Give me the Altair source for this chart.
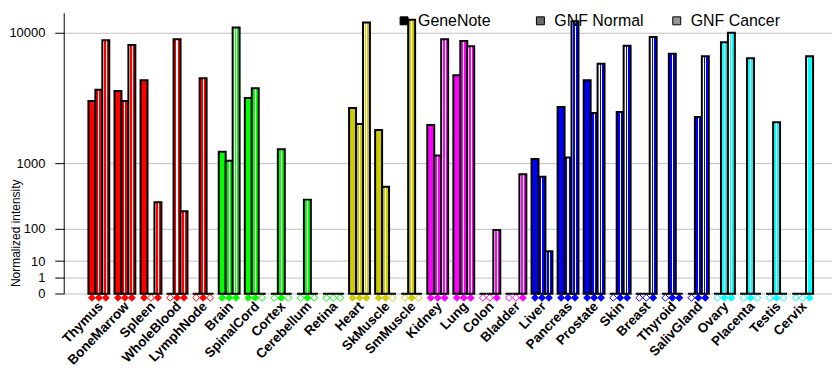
import altair as alt
import pandas as pd

tissues = ["Thymus", "BoneMarrow", "Spleen", "WholeBlood", "LymphNode", "Brain", "SpinalCord",
           "Cortex", "Cerebellum", "Retina", "Heart", "SkMuscle", "SmMuscle", "Kidney", "Lung",
           "Colon", "Bladder", "Liver", "Pancreas", "Prostate", "Skin", "Breast", "Thyroid",
           "SalivGland", "Ovary", "Placenta", "Testis", "Cervix"]
groups = ["red"] * 5 + ["green"] * 5 + ["yellow"] * 3 + ["magenta"] * 4 + ["blue"] * 7 + ["cyan"] * 4

series_order = ["GeneNote", "GNF Normal", "GNF Cancer"]

genenote = [3640, 4300, 5120, 0, 0, 1320, 3830, 0, 0, 0, 3220, 2120, 0, 2345, 5530,
            0, 0, 1110, 3275, 5120, 0, 0, 0, 0, 0, 0, 0, 0]
gnf_normal = [4400, 3640, 0, 9160, 5280, 1060, 4510, 1400, 337, 0, 2390, 517, 11700, 1210, 8960,
              0, 0, 693, 1150, 2940, 2990, 0, 7540, 2730, 8800, 7080, 2470, 0]
gnf_cancer = [9040, 8500, 307, 218, 0, 10660, 0, 0, 0, 0, 11330, 0, 0, 9160, 8350,
              92, 742, 24, 11500, 6540, 8400, 9440, 0, 7290, 9980, 0, 0, 7290]

gn_present = [1, 1, 1, 0, 0, 1, 1, 0, 0, 0, 1, 1, 0, 1, 1, 0, 0, 1, 1, 1, 0, 0, 0, 0, 0, 0, 0, 0]
normal_present = [1, 1, 0, 1, 1, 1, 1, 1, 1, 0, 1, 1, 1, 1, 1, 0, 0, 1, 1, 1, 1, 0, 1, 1, 1, 1, 1, 0]
cancer_present = [1, 1, 1, 1, 0, 1, 0, 0, 0, 0, 1, 0, 0, 1, 1, 1, 1, 1, 1, 1, 1, 1, 1, 1, 1, 0, 0, 1]

palette = {"red": "#ff0000", "green": "#00ff00", "yellow": "#cccc00",
           "magenta": "#ff00ff", "blue": "#0000ff", "cyan": "#00ffff"}

rows = []
for vals, pres, s in [(genenote, gn_present, "GeneNote"),
                      (gnf_normal, normal_present, "GNF Normal"),
                      (gnf_cancer, cancer_present, "GNF Cancer")]:
    for t, g, v, p in zip(tissues, groups, vals, pres):
        rows.append({"tissue": t, "series": s, "value": v, "group": g,
                     "color": palette[g], "present": p})
df = pd.DataFrame(rows)

W, H = 772, 282.3
FONT = "Liberation Sans"


def stripes(c, kind):
    if kind == "normal":
        stops = [(0, c), (0.42, c), (0.42, "#ffffff"), (0.57, "#ffffff"), (0.57, c), (1, c)]
    else:
        stops = [(0, "#ffffff"), (0.28, "#ffffff"), (0.28, c), (0.5, c),
                 (0.5, "#ffffff"), (0.63, "#ffffff"), (0.63, c), (1, c)]
    return {"gradient": "linear", "x1": 0, "y1": 0, "x2": 1, "y2": 0,
            "stops": [{"offset": o, "color": col} for o, col in stops]}


x_enc = alt.X("tissue:N", sort=tissues,
              scale=alt.Scale(paddingInner=0.2, paddingOuter=0.837, align=0.566, round=False),
              axis=alt.Axis(title=None, labelAngle=-46, labelAlign="right", labelBaseline="middle",
                            labelFontWeight="bold", labelFontSize=13.5, labelColor="black",
                            ticks=False, domain=False, grid=False, labelPadding=10,
                            labelOffset=2))
xo_enc = alt.XOffset("series:N", sort=series_order,
                     scale=alt.Scale(domain=series_order, paddingInner=0, paddingOuter=0))
y_enc = alt.Y("value:Q",
              scale=alt.Scale(type="pow", exponent=0.30103, domain=[0, 12717], nice=False),
              axis=alt.Axis(values=[0, 1, 10, 100, 1000, 10000], format="d",
                            title="Normalized intensity", titleFontSize=12,
                            titleFontWeight="normal", titleColor="black",
                            titleX=-41, titleY=221, titleAngle=-90,
                            titleAlign="center", titleBaseline="bottom",
                            labelFontSize=13, labelColor="black", labelPadding=10,
                            tickSize=9, tickColor="black", domainColor="black",
                            gridColor="#c0c0c0", grid=True))

base = alt.Chart(df).encode(x=x_enc, xOffset=xo_enc, y=y_enc)

layers = []
layers.append(
    base.transform_filter("datum.series == 'GeneNote'")
    .mark_bar(stroke="black", strokeWidth=2)
    .encode(fill=alt.Fill("color:N", scale=None))
)
for kind, sname in [("normal", "GNF Normal"), ("cancer", "GNF Cancer")]:
    for gname, chex in palette.items():
        layers.append(
            base.transform_filter(f"datum.series == '{sname}' && datum.group == '{gname}'")
            .mark_bar(fill=stripes(chex, kind), stroke="black", strokeWidth=2)
        )

diamonds = alt.Chart(df).mark_point(shape="diamond", size=49, filled=True, strokeWidth=1, opacity=1).encode(
    x=x_enc, xOffset=xo_enc,
    y=alt.value(H + 4),
    fill=alt.condition("datum.present == 1", alt.Fill("color:N", scale=None), alt.value("white")),
    stroke=alt.Stroke("color:N", scale=None),
)

legend_layer = alt.Chart(df).mark_point(shape="square", filled=True, opacity=0, size=64).encode(
    x=x_enc, xOffset=xo_enc, y=alt.value(0),
    color=alt.Color("series:N",
                    scale=alt.Scale(domain=series_order, range=["#000000", "#6a6a6a", "#949494"]),
                    legend=alt.Legend(title=None, orient="none", legendX=334, legendY=0,
                                      direction="horizontal", symbolType="square", symbolSize=64,
                                      symbolStrokeColor="black", symbolStrokeWidth=1,
                                      symbolOpacity=1, labelFontSize=16, labelColor="black",
                                      labelOffset=6, columnPadding=25, gridAlign="all",
                                      padding=0)),
)

chart = alt.layer(diamonds, *layers, legend_layer).properties(
    width=W, height=H,
    autosize=alt.AutoSizeParams(type="none"),
    padding={"left": 56, "top": 4, "right": 0, "bottom": 80},
).configure(font=FONT).configure_view(stroke=None)

chart.save("out.html", embed_options={"renderer": "svg", "actions": False})
